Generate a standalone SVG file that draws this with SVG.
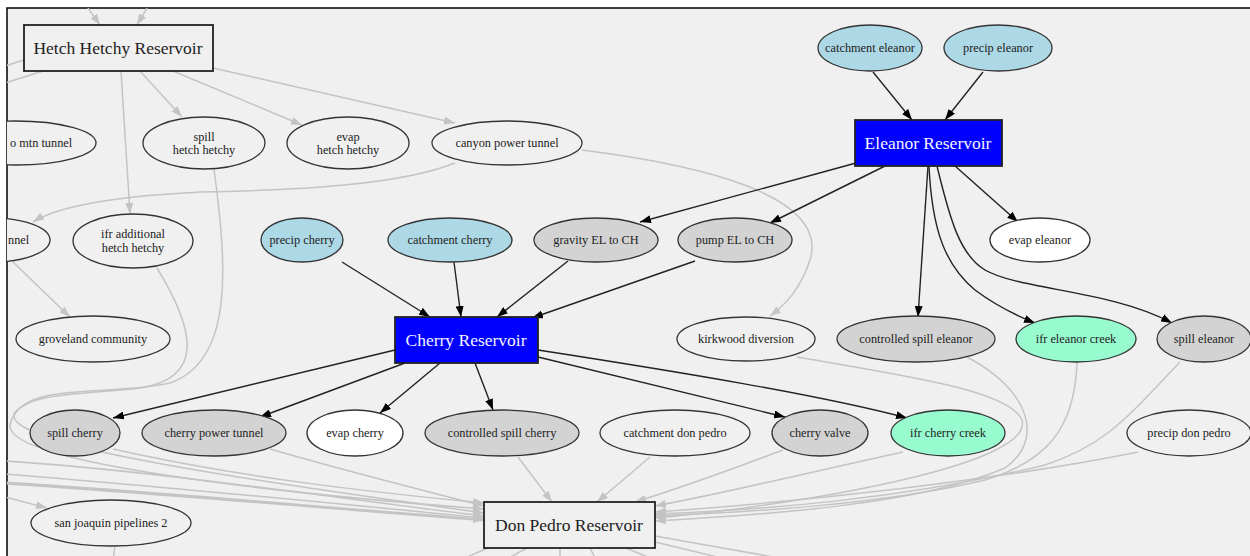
<svg xmlns="http://www.w3.org/2000/svg" width="1250" height="556" viewBox="0 0 1250 556">
<style>
.n ellipse{stroke:#333;stroke-width:1.3}
.n text{font-family:"Liberation Serif","Times New Roman",serif;font-size:12.3px;fill:#222;text-anchor:middle}
.res rect{stroke:#222;stroke-width:1.8}
.res text{font-family:"Liberation Serif","Times New Roman",serif;font-size:17.5px;text-anchor:middle}
.w{fill:#f0f0f0}.wh{fill:#ffffff}.lb{fill:#add8e6}.gr{fill:#d3d3d3}.aq{fill:#98fbcf}
.blue rect{fill:#0000ff}.blue text{fill:#f4f4ff}
.plain rect{fill:#f0f0f0}.plain text{fill:#222}
.eb path{fill:none;stroke:#222;stroke-width:1.4;marker-end:url(#ab)}
.eg path{fill:none;stroke:#c4c4c4;stroke-width:1.5}
.eg path.a{marker-end:url(#ag)}
.eg path.t{stroke-width:3}
</style>
<defs>
<marker id="ab" markerWidth="11" markerHeight="8" refX="11" refY="4" orient="auto" markerUnits="userSpaceOnUse"><path d="M0,0 L11,4 L0,8z" fill="#000"/></marker>
<marker id="ag" markerWidth="11" markerHeight="8" refX="11" refY="4" orient="auto" markerUnits="userSpaceOnUse"><path d="M0,0 L11,4 L0,8z" fill="#c4c4c4"/></marker>
<clipPath id="frame"><rect x="7" y="8" width="1250" height="560"/></clipPath>
</defs>
<rect x="0" y="0" width="1250" height="556" fill="#ffffff"/>
<rect x="7" y="8" width="1260" height="560" fill="#f0f0f0" stroke="#000" stroke-width="1.5"/>
<g clip-path="url(#frame)">
<g id="connectors">
<g class="eg">
<path class="a" d="M88,8 L100,25"/>
<path class="a" d="M147,8 L137,25"/>
<path d="M24,60 L5,66"/>
<path d="M43,71 L5,83"/>
<path class="a" d="M140,71 L182,117"/>
<path class="a" d="M173,71 L302,125"/>
<path class="a" d="M213,68 L455,123"/>
<path class="a" d="M121,71 L130,214"/>
<path class="a" d="M455,163 C400,185 300,190 200,192 C120,196 60,205 33,222"/>
<path class="a" d="M13,262 L70,317"/>
<path class="a" d="M582,150 C700,165 830,195 810,260 C800,290 785,305 770,316"/>
<path class="a" d="M214,169 C226,260 236,360 170,383 C100,398 20,380 10,425 C5,465 300,495 484,509"/>
<path class="a" d="M157,268 C195,330 205,378 140,388 C80,395 35,392 15,412 C-5,445 250,480 484,513"/>
<path class="a" d="M5,461 C150,470 350,500 484,516"/>
<path class="a" d="M5,474 C150,485 350,505 484,518"/>
<path class="a t" d="M5,483 C150,492 350,510 484,520"/>
<path class="a" d="M5,497 L47,508"/>
<path d="M115,546 L113,560"/>
<path class="a" d="M113,449 C250,480 400,495 484,503"/>
<path class="a" d="M270,449 C360,475 430,492 484,506"/>
<path class="a" d="M518,457 L552,502"/>
<path class="a" d="M650,457 L597,502"/>
<path class="a" d="M783,450 C730,470 680,488 635,502"/>
<path class="a" d="M903,452 C820,470 730,492 655,506"/>
<path class="a" d="M1138,452 C1000,480 800,502 655,512"/>
<path class="a" d="M797,357 C900,375 1010,390 1022,420 C1035,465 800,505 655,518"/>
<path class="a" d="M967,357 C1030,390 1045,440 1005,468 C920,505 760,515 655,521"/>
<path class="a" d="M1077,362 C1075,430 1045,462 985,480 C880,505 750,512 655,516"/>
<path class="a" d="M1180,362 C1125,420 1105,445 1045,465 C900,500 760,510 655,514"/>
<path d="M488,548 L460,560"/>
<path d="M527,548 L505,560"/>
<path d="M560,548 L560,560"/>
<path d="M590,548 L596,560"/>
<path d="M626,548 L655,560"/>
<path d="M655,536 L790,560"/>
<path d="M655,542 L730,560"/>
</g>
<g class="eb">
<path d="M873,72 L912,120"/>
<path d="M983,72 L945,120"/>
<path d="M856,163 L640,222"/>
<path d="M885,166 L770,223"/>
<path d="M955,166 L1018,222"/>
<path d="M928,166 L918,317"/>
<path d="M929,166 C932,230 945,265 975,290 C995,305 1015,315 1035,323"/>
<path d="M937,166 C950,220 960,255 985,270 C1020,290 1110,290 1172,323"/>
<path d="M342,262 L430,317"/>
<path d="M454,262 L461,317"/>
<path d="M568,261 L497,317"/>
<path d="M695,261 L532,318"/>
<path d="M395,350 L113,418"/>
<path d="M405,363 L260,417"/>
<path d="M440,363 L380,413"/>
<path d="M475,363 L493,410"/>
<path d="M538,357 L785,417"/>
<path d="M538,350 C680,372 820,395 907,418"/>
</g>
</g>
<g id="hetch_hetchy_reservoir" class="res plain"><rect x="24" y="25" width="189" height="46"/><text x="118" y="54">Hetch Hetchy Reservoir</text></g>
<g id="eleanor_reservoir" class="res blue"><rect x="855" y="120" width="147" height="46"/><text x="928" y="149">Eleanor Reservoir</text></g>
<g id="cherry_reservoir" class="res blue"><rect x="395" y="317" width="143" height="46"/><text x="466" y="346">Cherry Reservoir</text></g>
<g id="don_pedro_reservoir" class="res plain"><rect x="484" y="502" width="171" height="46"/><text x="569" y="531">Don Pedro Reservoir</text></g>
<g id="mtn_tunnel" class="n"><ellipse class="w" cx="16" cy="143" rx="80" ry="22"/><text x="10" y="147" style="text-anchor:start">o mtn tunnel</text></g>
<g id="spill_hetch_hetchy" class="n"><ellipse class="w" cx="204" cy="143" rx="61" ry="26"/><text x="204" y="141">spill</text><text x="204" y="154">hetch hetchy</text></g>
<g id="evap_hetch_hetchy" class="n"><ellipse class="w" cx="348" cy="143" rx="61" ry="26"/><text x="348" y="141">evap</text><text x="348" y="154">hetch hetchy</text></g>
<g id="canyon_power_tunnel" class="n"><ellipse class="w" cx="507" cy="143" rx="75" ry="22"/><text x="507" y="147">canyon power tunnel</text></g>
<g id="catchment_eleanor" class="n"><ellipse class="lb" cx="870" cy="48" rx="52" ry="23"/><text x="870" y="52">catchment eleanor</text></g>
<g id="precip_eleanor" class="n"><ellipse class="lb" cx="998" cy="48" rx="54" ry="23"/><text x="998" y="52">precip eleanor</text></g>
<g id="tunnel_left" class="n"><ellipse class="w" cx="-8" cy="240" rx="58" ry="22"/><text x="8" y="244" style="text-anchor:start">nnel</text></g>
<g id="ifr_additional_hetch_hetchy" class="n"><ellipse class="w" cx="133" cy="241" rx="60" ry="27"/><text x="133" y="238">ifr additional</text><text x="133" y="252">hetch hetchy</text></g>
<g id="precip_cherry" class="n"><ellipse class="lb" cx="302" cy="240" rx="41" ry="22"/><text x="302" y="244">precip cherry</text></g>
<g id="catchment_cherry" class="n"><ellipse class="lb" cx="450" cy="240" rx="62" ry="22"/><text x="450" y="244">catchment cherry</text></g>
<g id="gravity_el_to_ch" class="n"><ellipse class="gr" cx="596" cy="240" rx="62" ry="22"/><text x="596" y="244">gravity EL to CH</text></g>
<g id="pump_el_to_ch" class="n"><ellipse class="gr" cx="735" cy="240" rx="57" ry="22"/><text x="735" y="244">pump EL to CH</text></g>
<g id="evap_eleanor" class="n"><ellipse class="wh" cx="1040" cy="240" rx="50" ry="22"/><text x="1040" y="244">evap eleanor</text></g>
<g id="groveland_community" class="n"><ellipse class="w" cx="93" cy="339" rx="77" ry="23"/><text x="93" y="343">groveland community</text></g>
<g id="kirkwood_diversion" class="n"><ellipse class="w" cx="746" cy="339" rx="69" ry="22"/><text x="746" y="343">kirkwood diversion</text></g>
<g id="controlled_spill_eleanor" class="n"><ellipse class="gr" cx="916" cy="339" rx="79" ry="23"/><text x="916" y="343">controlled spill eleanor</text></g>
<g id="ifr_eleanor_creek" class="n"><ellipse class="aq" cx="1076" cy="339" rx="60" ry="23"/><text x="1076" y="343">ifr eleanor creek</text></g>
<g id="spill_eleanor" class="n"><ellipse class="gr" cx="1204" cy="339" rx="47" ry="23"/><text x="1204" y="343">spill eleanor</text></g>
<g id="spill_cherry" class="n"><ellipse class="gr" cx="75" cy="433" rx="45" ry="23"/><text x="75" y="437">spill cherry</text></g>
<g id="cherry_power_tunnel" class="n"><ellipse class="gr" cx="214" cy="433" rx="72" ry="23"/><text x="214" y="437">cherry power tunnel</text></g>
<g id="evap_cherry" class="n"><ellipse class="wh" cx="355" cy="433" rx="48" ry="23"/><text x="355" y="437">evap cherry</text></g>
<g id="controlled_spill_cherry" class="n"><ellipse class="gr" cx="502" cy="433" rx="77" ry="23"/><text x="502" y="437">controlled spill cherry</text></g>
<g id="catchment_don_pedro" class="n"><ellipse class="w" cx="675" cy="433" rx="75" ry="23"/><text x="675" y="437">catchment don pedro</text></g>
<g id="cherry_valve" class="n"><ellipse class="gr" cx="820" cy="433" rx="48" ry="23"/><text x="820" y="437">cherry valve</text></g>
<g id="ifr_cherry_creek" class="n"><ellipse class="aq" cx="948" cy="433" rx="57" ry="23"/><text x="948" y="437">ifr cherry creek</text></g>
<g id="precip_don_pedro" class="n"><ellipse class="w" cx="1189" cy="433" rx="62" ry="23"/><text x="1189" y="437">precip don pedro</text></g>
<g id="san_joaquin_pipelines_2" class="n"><ellipse class="w" cx="111" cy="523" rx="80" ry="23"/><text x="111" y="527">san joaquin pipelines 2</text></g>
</g>
</svg>
